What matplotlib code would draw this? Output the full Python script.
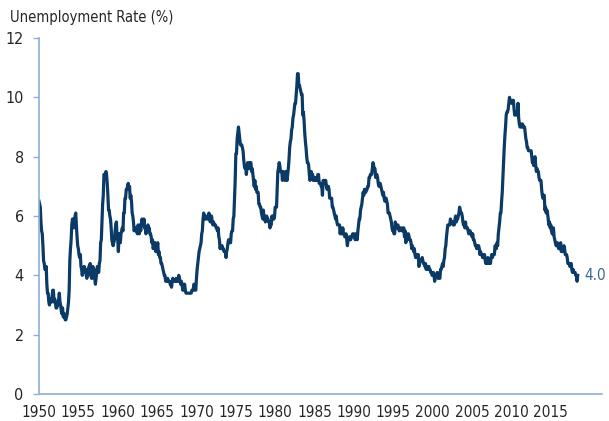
# US unemployment rate, monthly, 1950 - mid 2018
import numpy as np
from matplotlib import pyplot as plt

plt.rcParams['font.family'] = ['DejaVu Sans']
plt.rcParams['font.stretch'] = 'condensed'

navy = '#0b3a66'
axis_blue = '#8eaed6'
label_blue = '#3d6793'
text_grey = '#262626'

# monthly rate (%), one list per decade
rate_1950s = [
    6.5, 6.4, 6.3, 5.8, 5.5, 5.4, 5.0, 4.5, 4.4, 4.2, 4.2, 4.3,
    3.7, 3.4, 3.4, 3.1, 3.0, 3.2, 3.1, 3.1, 3.3, 3.5, 3.5, 3.1,
    3.2, 3.1, 2.9, 2.9, 3.0, 3.0, 3.2, 3.4, 3.1, 3.0, 2.8, 2.7,
    2.9, 2.6, 2.6, 2.7, 2.5, 2.5, 2.6, 2.7, 2.9, 3.1, 3.5, 4.5,
    4.9, 5.2, 5.7, 5.9, 5.9, 5.6, 5.8, 6.0, 6.1, 5.7, 5.3, 5.0,
    4.9, 4.7, 4.6, 4.7, 4.3, 4.2, 4.0, 4.2, 4.1, 4.3, 4.2, 4.2,
    4.0, 3.9, 4.2, 4.0, 4.3, 4.3, 4.4, 4.1, 3.9, 3.9, 4.3, 4.2,
    4.2, 3.9, 3.7, 3.9, 4.1, 4.3, 4.2, 4.1, 4.4, 4.5, 5.1, 5.2,
    5.8, 6.4, 6.7, 7.4, 7.4, 7.3, 7.5, 7.4, 7.1, 6.7, 6.2, 6.2,
    6.0, 5.9, 5.6, 5.2, 5.1, 5.0, 5.1, 5.2, 5.5, 5.7, 5.8, 5.3,
]
rate_1960s = [
    5.2, 4.8, 5.4, 5.2, 5.1, 5.4, 5.5, 5.6, 5.5, 6.1, 6.1, 6.6,
    6.6, 6.9, 6.9, 7.0, 7.1, 6.9, 7.0, 6.6, 6.7, 6.5, 6.1, 6.0,
    5.8, 5.5, 5.6, 5.6, 5.5, 5.5, 5.4, 5.7, 5.6, 5.4, 5.7, 5.5,
    5.7, 5.9, 5.7, 5.7, 5.9, 5.6, 5.6, 5.4, 5.5, 5.5, 5.7, 5.5,
    5.6, 5.4, 5.4, 5.3, 5.1, 5.2, 4.9, 5.0, 5.1, 5.1, 4.8, 5.0,
    4.9, 5.1, 4.7, 4.8, 4.6, 4.6, 4.4, 4.4, 4.3, 4.2, 4.1, 4.0,
    4.0, 3.8, 3.8, 3.8, 3.9, 3.8, 3.8, 3.8, 3.7, 3.7, 3.6, 3.8,
    3.9, 3.8, 3.8, 3.8, 3.8, 3.9, 3.8, 3.8, 3.8, 4.0, 3.9, 3.8,
    3.7, 3.8, 3.7, 3.5, 3.5, 3.7, 3.7, 3.5, 3.4, 3.4, 3.4, 3.4,
    3.4, 3.4, 3.4, 3.4, 3.4, 3.5, 3.5, 3.5, 3.7, 3.7, 3.5, 3.5,
]
rate_1970s = [
    3.9, 4.2, 4.4, 4.6, 4.8, 4.9, 5.0, 5.1, 5.4, 5.5, 5.9, 6.1,
    5.9, 5.9, 6.0, 5.9, 5.9, 5.9, 6.0, 6.1, 6.0, 5.8, 6.0, 6.0,
    5.8, 5.7, 5.8, 5.7, 5.7, 5.7, 5.6, 5.6, 5.5, 5.6, 5.3, 5.2,
    4.9, 5.0, 4.9, 5.0, 4.9, 4.9, 4.8, 4.8, 4.8, 4.6, 4.8, 4.9,
    5.1, 5.2, 5.1, 5.1, 5.1, 5.4, 5.5, 5.5, 5.9, 6.0, 6.6, 7.2,
    8.1, 8.1, 8.6, 8.8, 9.0, 8.8, 8.6, 8.4, 8.4, 8.4, 8.3, 8.2,
    7.9, 7.7, 7.6, 7.7, 7.4, 7.6, 7.8, 7.8, 7.6, 7.7, 7.8, 7.8,
    7.5, 7.6, 7.4, 7.2, 7.0, 7.2, 6.9, 7.0, 6.8, 6.8, 6.8, 6.4,
    6.4, 6.3, 6.3, 6.1, 6.0, 5.9, 6.2, 5.9, 6.0, 5.8, 5.9, 6.0,
    5.9, 5.9, 5.8, 5.8, 5.6, 5.7, 5.7, 6.0, 5.9, 6.0, 5.9, 6.0,
]
rate_1980s = [
    6.3, 6.3, 6.3, 6.9, 7.5, 7.6, 7.8, 7.7, 7.5, 7.5, 7.5, 7.2,
    7.5, 7.4, 7.4, 7.2, 7.5, 7.5, 7.2, 7.4, 7.6, 7.9, 8.3, 8.5,
    8.6, 8.9, 9.0, 9.3, 9.4, 9.6, 9.8, 9.8, 10.1, 10.4, 10.8, 10.8,
    10.4, 10.4, 10.3, 10.2, 10.1, 10.1, 9.4, 9.5, 9.2, 8.8, 8.5, 8.3,
    8.0, 7.8, 7.8, 7.7, 7.4, 7.2, 7.5, 7.5, 7.3, 7.4, 7.2, 7.3,
    7.3, 7.2, 7.2, 7.3, 7.2, 7.4, 7.4, 7.1, 7.1, 7.1, 7.0, 7.0,
    6.7, 7.2, 7.2, 7.1, 7.2, 7.2, 7.0, 6.9, 7.0, 7.0, 6.9, 6.6,
    6.6, 6.6, 6.6, 6.3, 6.3, 6.2, 6.1, 6.0, 5.9, 6.0, 5.8, 5.7,
    5.7, 5.7, 5.7, 5.4, 5.6, 5.4, 5.4, 5.6, 5.4, 5.4, 5.3, 5.3,
    5.4, 5.2, 5.0, 5.2, 5.2, 5.3, 5.2, 5.2, 5.3, 5.3, 5.4, 5.4,
]
rate_1990s = [
    5.4, 5.3, 5.2, 5.4, 5.4, 5.2, 5.5, 5.7, 5.9, 5.9, 6.2, 6.3,
    6.4, 6.6, 6.8, 6.7, 6.9, 6.9, 6.8, 6.9, 6.9, 7.0, 7.0, 7.3,
    7.3, 7.4, 7.4, 7.4, 7.6, 7.8, 7.7, 7.6, 7.6, 7.3, 7.4, 7.4,
    7.3, 7.1, 7.0, 7.1, 7.1, 7.0, 6.9, 6.8, 6.7, 6.8, 6.6, 6.5,
    6.6, 6.6, 6.5, 6.4, 6.1, 6.1, 6.1, 6.0, 5.9, 5.8, 5.6, 5.5,
    5.6, 5.4, 5.4, 5.8, 5.6, 5.6, 5.7, 5.7, 5.6, 5.5, 5.6, 5.6,
    5.6, 5.5, 5.5, 5.6, 5.6, 5.3, 5.5, 5.1, 5.2, 5.2, 5.4, 5.4,
    5.3, 5.2, 5.2, 5.1, 4.9, 5.0, 4.9, 4.8, 4.9, 4.7, 4.6, 4.7,
    4.6, 4.6, 4.7, 4.3, 4.4, 4.5, 4.5, 4.5, 4.6, 4.5, 4.4, 4.4,
    4.3, 4.4, 4.2, 4.3, 4.2, 4.3, 4.3, 4.2, 4.2, 4.1, 4.1, 4.0,
]
rate_2000s = [
    4.0, 4.1, 4.0, 3.8, 4.0, 4.0, 4.0, 4.1, 3.9, 3.9, 3.9, 3.9,
    4.2, 4.2, 4.3, 4.4, 4.3, 4.5, 4.6, 4.9, 5.0, 5.3, 5.5, 5.7,
    5.7, 5.7, 5.7, 5.9, 5.8, 5.8, 5.8, 5.7, 5.7, 5.7, 5.9, 6.0,
    5.8, 5.9, 5.9, 6.0, 6.1, 6.3, 6.2, 6.1, 6.1, 6.0, 5.8, 5.7,
    5.7, 5.6, 5.8, 5.6, 5.6, 5.6, 5.5, 5.4, 5.4, 5.5, 5.4, 5.4,
    5.3, 5.4, 5.2, 5.2, 5.1, 5.0, 5.0, 4.9, 5.0, 5.0, 5.0, 4.9,
    4.7, 4.8, 4.7, 4.7, 4.6, 4.6, 4.7, 4.7, 4.5, 4.4, 4.5, 4.4,
    4.6, 4.5, 4.4, 4.5, 4.4, 4.6, 4.7, 4.6, 4.7, 4.7, 4.7, 5.0,
    5.0, 4.9, 5.1, 5.0, 5.4, 5.6, 5.8, 6.1, 6.1, 6.5, 6.8, 7.3,
    7.8, 8.3, 8.7, 9.0, 9.4, 9.5, 9.5, 9.6, 9.8, 10.0, 9.9, 9.9,
]
rate_2010s = [
    9.8, 9.8, 9.9, 9.9, 9.6, 9.4, 9.4, 9.5, 9.5, 9.4, 9.8, 9.3,
    9.1, 9.0, 9.0, 9.1, 9.0, 9.1, 9.0, 9.0, 9.0, 8.8, 8.6, 8.5,
    8.3, 8.3, 8.2, 8.2, 8.2, 8.2, 8.2, 8.0, 7.8, 7.8, 7.7, 7.9,
    8.0, 7.7, 7.5, 7.6, 7.5, 7.5, 7.3, 7.2, 7.2, 7.2, 6.9, 6.7,
    6.6, 6.7, 6.7, 6.2, 6.3, 6.1, 6.2, 6.1, 5.9, 5.7, 5.8, 5.6,
    5.7, 5.5, 5.4, 5.4, 5.6, 5.3, 5.2, 5.1, 5.0, 5.0, 5.1, 5.0,
    4.9, 4.9, 5.0, 5.1, 4.8, 4.9, 4.8, 4.9, 5.0, 4.9, 4.7, 4.7,
    4.7, 4.6, 4.4, 4.4, 4.4, 4.3, 4.3, 4.4, 4.2, 4.1, 4.2, 4.1,
    4.1, 4.1, 4.0, 4.0, 3.8, 4.0,
]

rate = np.array(rate_1950s + rate_1960s + rate_1970s + rate_1980s
                + rate_1990s + rate_2000s + rate_2010s)
year = 1950 + np.arange(len(rate)) / 12

year_ticks = list(range(1950, 2020, 5))
rate_ticks = [0, 2, 4, 6, 8, 10, 12]

fig = plt.figure(figsize=(6.09, 4.21), dpi=100)
ax = fig.add_axes([0.064, 0.0641, 0.9245, 0.8456])

ax.plot(year, rate, color=navy, lw=2.3, solid_joinstyle='round')
ax.annotate('{:.1f}'.format(rate[-1]), xy=(year[-1], rate[-1]), xytext=(5, 0),
            textcoords='offset points', va='center', ha='left',
            color=label_blue, fontsize=11)

ax.set_xlim(1950, 2021.5)
ax.set_ylim(0, 12)
ax.set_xticks(year_ticks)
ax.set_yticks(rate_ticks)
ax.tick_params(axis='x', length=0, pad=8, labelsize=11, labelcolor=text_grey)
ax.tick_params(axis='y', length=4, width=1, color=axis_blue, pad=7,
               labelsize=11.5, labelcolor=text_grey)

for s in ['top', 'right']:
    ax.spines[s].set_visible(False)
for s in ['left', 'bottom']:
    ax.spines[s].set_color(axis_blue)
    ax.spines[s].set_linewidth(1.2)

fig.text(10 / 609, 1 - 22 / 421, 'Unemployment Rate (%)', fontsize=10.5,
         color=text_grey, va='baseline', ha='left')

plt.savefig('out.png', dpi=100)
